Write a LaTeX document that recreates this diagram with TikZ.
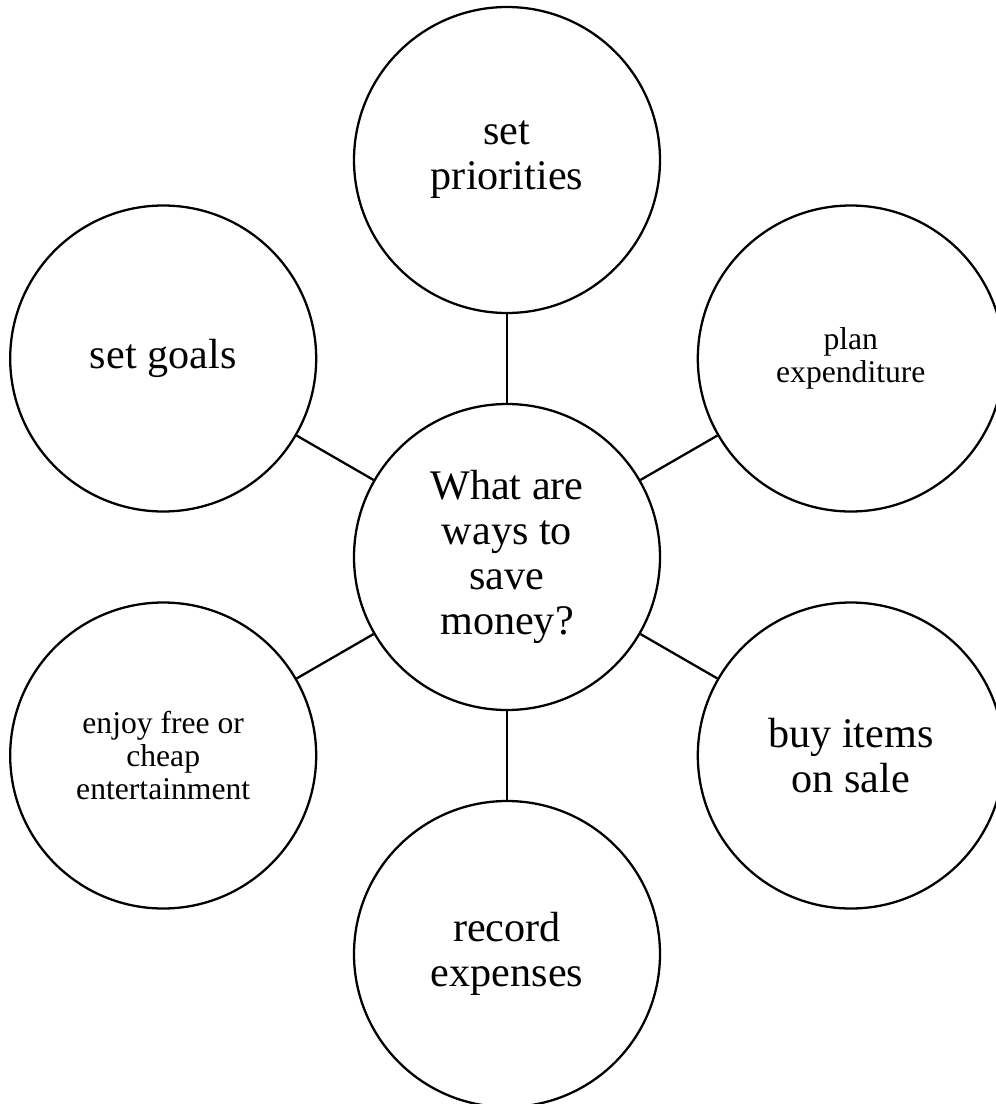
\documentclass[tikz,border=0pt]{standalone}
\usepackage{fontspec}
\setmainfont{Liberation Serif}
\begin{document}
\begin{tikzpicture}[line width=1.3pt,
		bubble/.style={draw=black, circle, minimum size=6.12cm, inner sep=0pt, align=center},
		big/.style={font=\fontsize{24}{25.5}\selectfont},
		small/.style={font=\fontsize{18}{18.8}\selectfont}]
	\useasboundingbox (0,0) rectangle (19.92,-22.08);
	\begin{scope}[shift={(10.14,-11.14)}]
		\node[bubble, big] (Q) at (0,0) {What are\\ways to\\save\\money?};
		\node[bubble, big] (P) at (90:7.94) {set\\priorities};
		\node[bubble, big] (G) at (150:7.94) {set goals};
		\node[bubble, small] (X) at (30:7.94) {plan\\expenditure};
		\node[bubble, small] (E) at (210:7.94) {enjoy free or\\cheap\\entertainment};
		\node[bubble, big] (S) at (330:7.94) {buy items\\on sale};
		\node[bubble, big] (R) at (270:7.94) {record\\expenses};
	\end{scope}
	\foreach \n in {P,G,X,E,S,R} \draw (Q) -- (\n);
\end{tikzpicture}
\end{document}
